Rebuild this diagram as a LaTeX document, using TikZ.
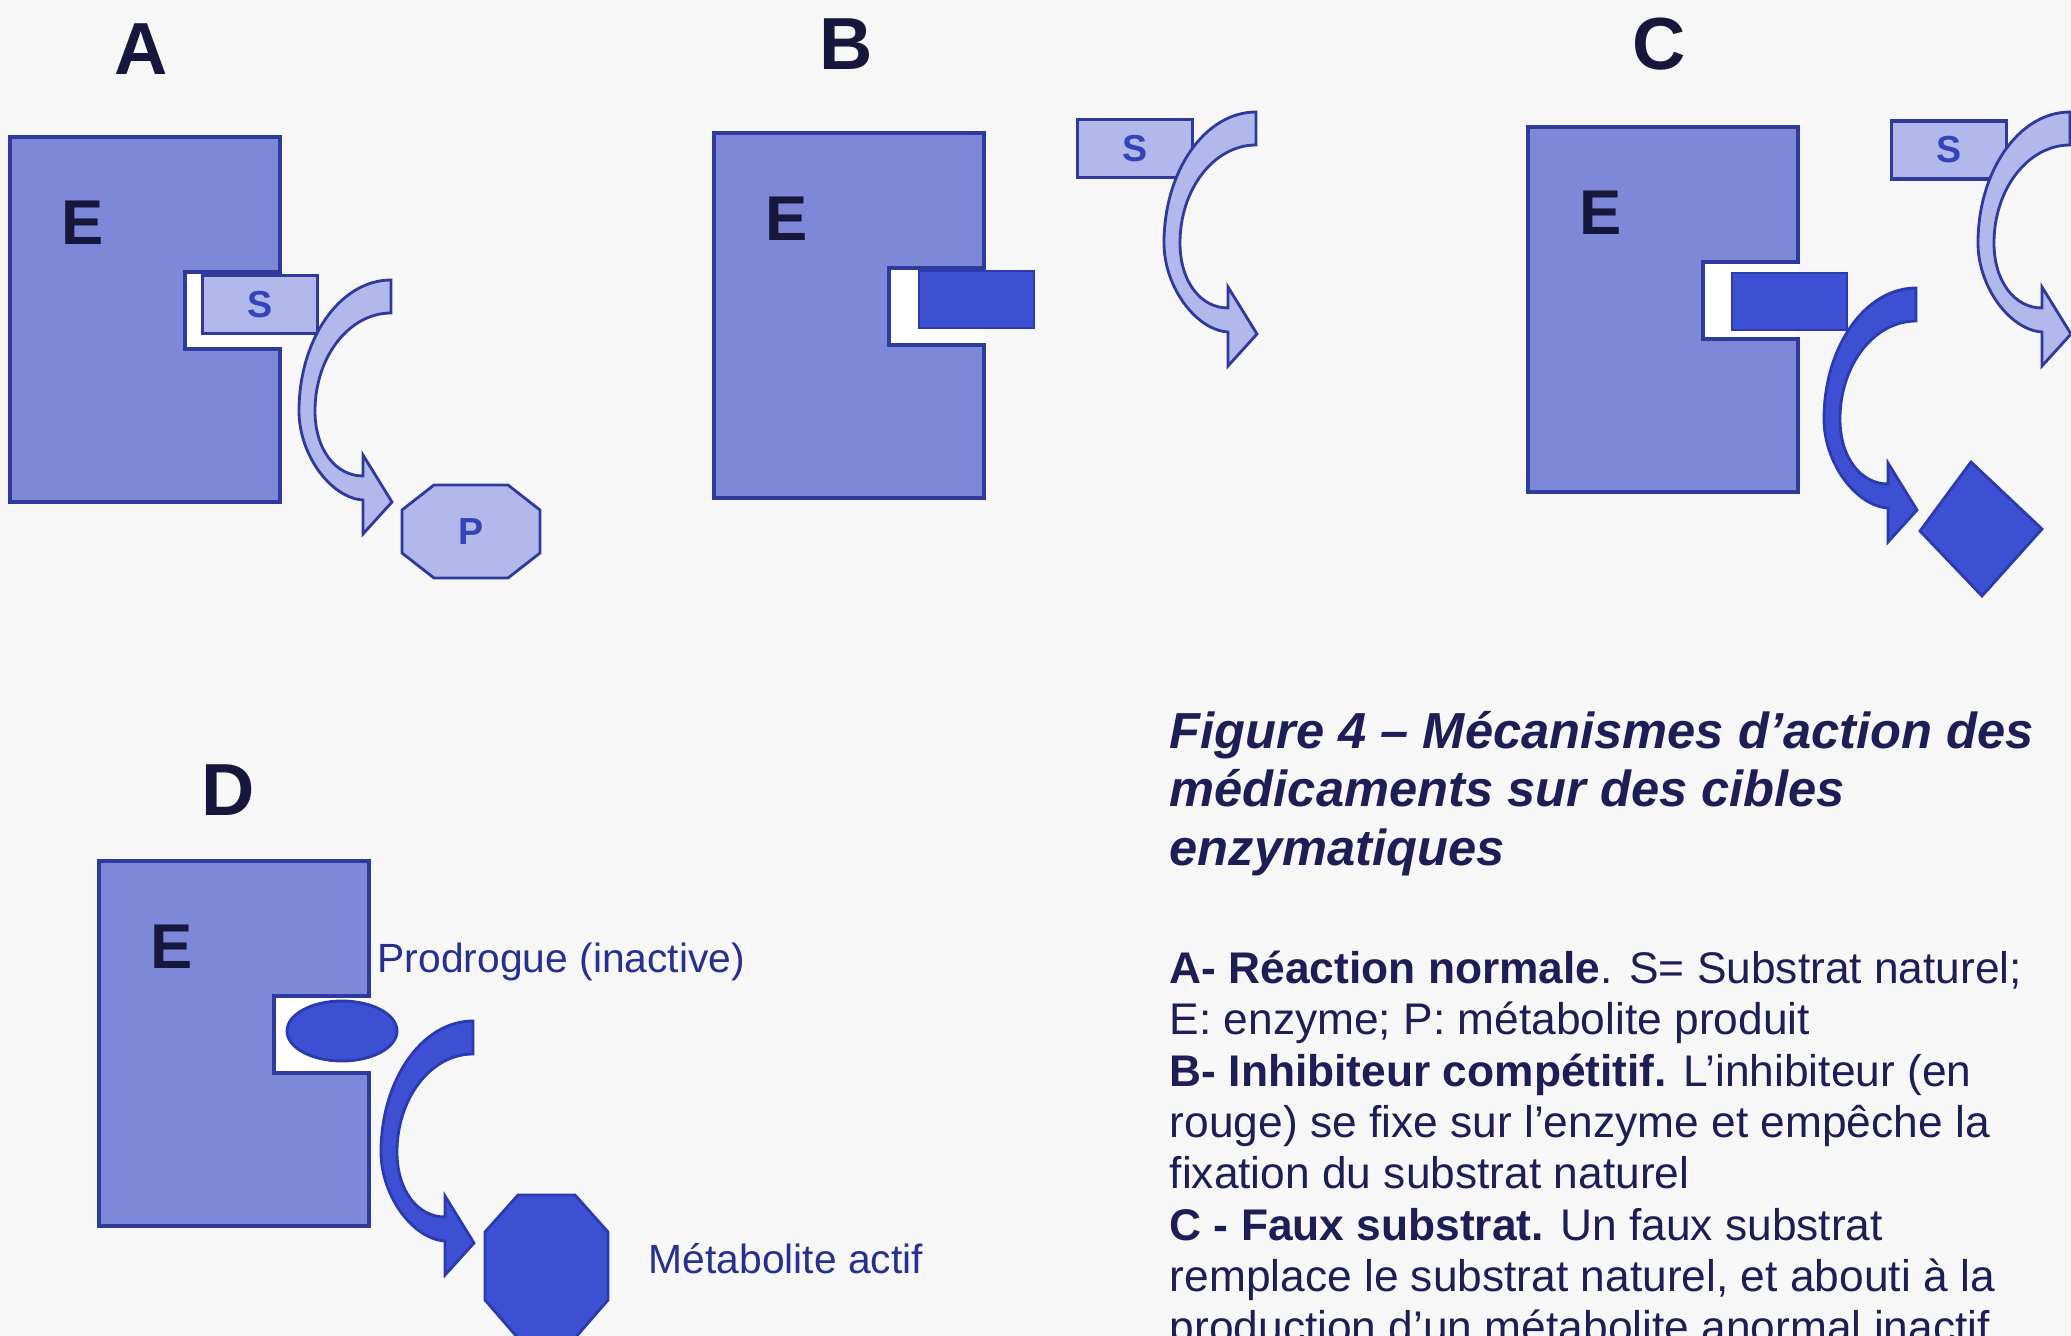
\documentclass[tikz,border=0pt]{standalone}
\usepackage{fontspec}
\setmainfont{Liberation Sans}
\setsansfont{Liberation Sans}
\usepackage{tikz}
\usetikzlibrary{shapes.geometric, positioning, calc}
\definecolor{paper}{HTML}{F7F7F7}
\definecolor{enzfill}{HTML}{7D88D9}
\definecolor{lightfill}{HTML}{B0B8EC}
\definecolor{darkfill}{HTML}{3D50D4}
\definecolor{edge}{HTML}{2E3A9C}
\definecolor{darkedge}{HTML}{2B3AAE}
\definecolor{ink}{HTML}{17173D}
\definecolor{captext}{HTML}{1C1E55}
\definecolor{letterblue}{HTML}{3343B8}
\definecolor{tagblue}{HTML}{26308F}
\tikzset{
  enzymebody/.style={fill=enzfill, draw=edge, line width=0.9pt},
  panel/.style={inner sep=0pt, text=ink, font=\fontsize{21}{24}\selectfont\bfseries},
  elabel/.style={inner sep=0pt, text=ink, font=\fontsize{18}{20}\selectfont\bfseries},
  substrate/.style={
    rectangle, fill=lightfill, draw=edge, line width=0.9pt, inner sep=0pt,
    minimum width=1.15cm, minimum height=0.58cm,
    font=\fontsize{10.7}{12}\selectfont\bfseries, text=letterblue
  },
  blocker/.style={
    rectangle, fill=darkfill, draw=darkedge, line width=0.8pt, inner sep=0pt,
    minimum width=1.15cm, minimum height=0.57cm
  },
  lightshape/.style={fill=lightfill, draw=edge, line width=0.8pt},
  darkshape/.style={fill=darkfill, draw=darkedge, line width=0.8pt},
  captitle/.style={anchor=base west, inner sep=0pt, text=captext,
    font=\fontsize{14.4}{17}\selectfont\bfseries\itshape},
  legend/.style={anchor=base west, inner sep=0pt, text=captext,
    font=\fontsize{12.6}{14.6}\selectfont},
  tag/.style={anchor=base west, inner sep=0pt, text=tagblue,
    font=\fontsize{11.6}{13}\selectfont}
}
% enzyme block with its notch, #1 = top left corner, #2 = panel
\newcommand{\enzyme}[2]{
  \begin{scope}[shift={#1}]
    \fill[white] (175,135) rectangle (270,212);
    \filldraw[enzymebody] (0,0) -- (270,0) -- (270,135) -- (175,135)
      -- (175,212) -- (270,212) -- (270,365) -- (0,365) -- cycle;
    \node[elabel] (E#2) at (73,86) {E};
  \end{scope}
}
% curved block arrow, #1 = style, #2 = top corner of its tail
\newcommand{\bendarrow}[2]{
  \filldraw[#1, shift={#2}] (0,0) .. controls (-51,0) and (-92,59) .. (-92,131)
    .. controls (-92,175) and (-60,218) .. (-28,220)
    -- (-28,254) -- (1,222) -- (-28,175) -- (-28,196)
    .. controls (-55,196) and (-76,170) .. (-76,131)
    .. controls (-76,77) and (-42,33) .. (0,33) -- cycle;
}

\begin{document}
\begin{tikzpicture}[x=0.01cm, y=-0.01cm]

  \useasboundingbox (0,0) rectangle (2071,1336);
  \clip (0,0) rectangle (2071,1336);
  \fill[paper] (0,0) rectangle (2071,1336);

  % Panel labels
  \node[panel] (labA) at (141,49) {A};
  \node[panel] (labB) at (846,44) {B};
  \node[panel] (labC) at (1659,44) {C};
  \node[panel] (labD) at (228,790) {D};

  % Enzymes
  \enzyme{(10,137)}{A}
  \enzyme{(714,133)}{B}
  \enzyme{(1528,127)}{C}
  \enzyme{(99,861)}{D}

  % A: normal reaction
  \node[substrate] (sA) at (260,304.5) {S};
  \filldraw[lightshape] (434,485) -- (508,485) -- (540,510) -- (540,553)
    -- (508,578) -- (434,578) -- (402,553) -- (402,510) -- cycle;
  \node[inner sep=0pt, text=letterblue, font=\fontsize{10.7}{12}\selectfont\bfseries] (P) at (471,532) {P};
  \bendarrow{lightshape}{(391,280)}

  % B: competitive inhibitor
  \node[blocker] (inhB) at (976.5,299.5) {};
  \node[substrate] (sB) at (1135,148.5) {S};
  \bendarrow{lightshape}{(1256,112)}

  % C: false substrate
  \node[blocker] (inhC) at (1789.5,301.5) {};
  \node[substrate] (sC) at (1949,150) {S};
  \filldraw[darkshape] (1920,531) -- (1971,462) -- (2042,529) -- (1982,596) -- cycle;
  \bendarrow{darkshape}{(1916,288)}
  \bendarrow{lightshape}{(2070,112)}

  % D: prodrug
  \node[ellipse, fill=darkfill, draw=darkedge, line width=0.8pt, inner sep=0pt,
    minimum width=1.10cm, minimum height=0.60cm] (prodrug) at (342,1031) {};
  \filldraw[darkshape] (518,1195) -- (575,1195) -- (608,1232) -- (608,1300)
    -- (575,1338) -- (518,1338) -- (485,1300) -- (485,1232) -- cycle;
  \bendarrow{darkshape}{(473,1021)}
  \node[tag] (prodtag) at (377,972) {Prodrogue (inactive)};
  \node[tag] (metatag) at (648,1273) {Métabolite actif};

  % Caption
  \node[captitle] (cap1) at (1169,748) {Figure 4 – Mécanismes d’action des};
  \node[captitle] (cap2) at (1169,806) {médicaments sur des cibles};
  \node[captitle] (cap3) at (1169,865) {enzymatiques};

  \node[legend] (leg1) at (1169,983.5) {\textbf{A- Réaction normale}. S= Substrat naturel;};
  \node[legend] (leg2) at (1169,1034.8) {E: enzyme; P: métabolite produit};
  \node[legend] (leg3) at (1169,1086.1) {\textbf{B- Inhibiteur compétitif.} L’inhibiteur (en};
  \node[legend] (leg4) at (1169,1137.4) {rouge) se fixe sur l’enzyme et empêche la};
  \node[legend] (leg5) at (1169,1188.7) {fixation du substrat naturel};
  \node[legend] (leg6) at (1169,1240) {\textbf{C - Faux substrat.} Un faux substrat};
  \node[legend] (leg7) at (1169,1291.3) {remplace le substrat naturel, et abouti à la};
  \node[legend] (leg8) at (1169,1342.6) {production d’un métabolite anormal inactif};

\end{tikzpicture}
\end{document}
